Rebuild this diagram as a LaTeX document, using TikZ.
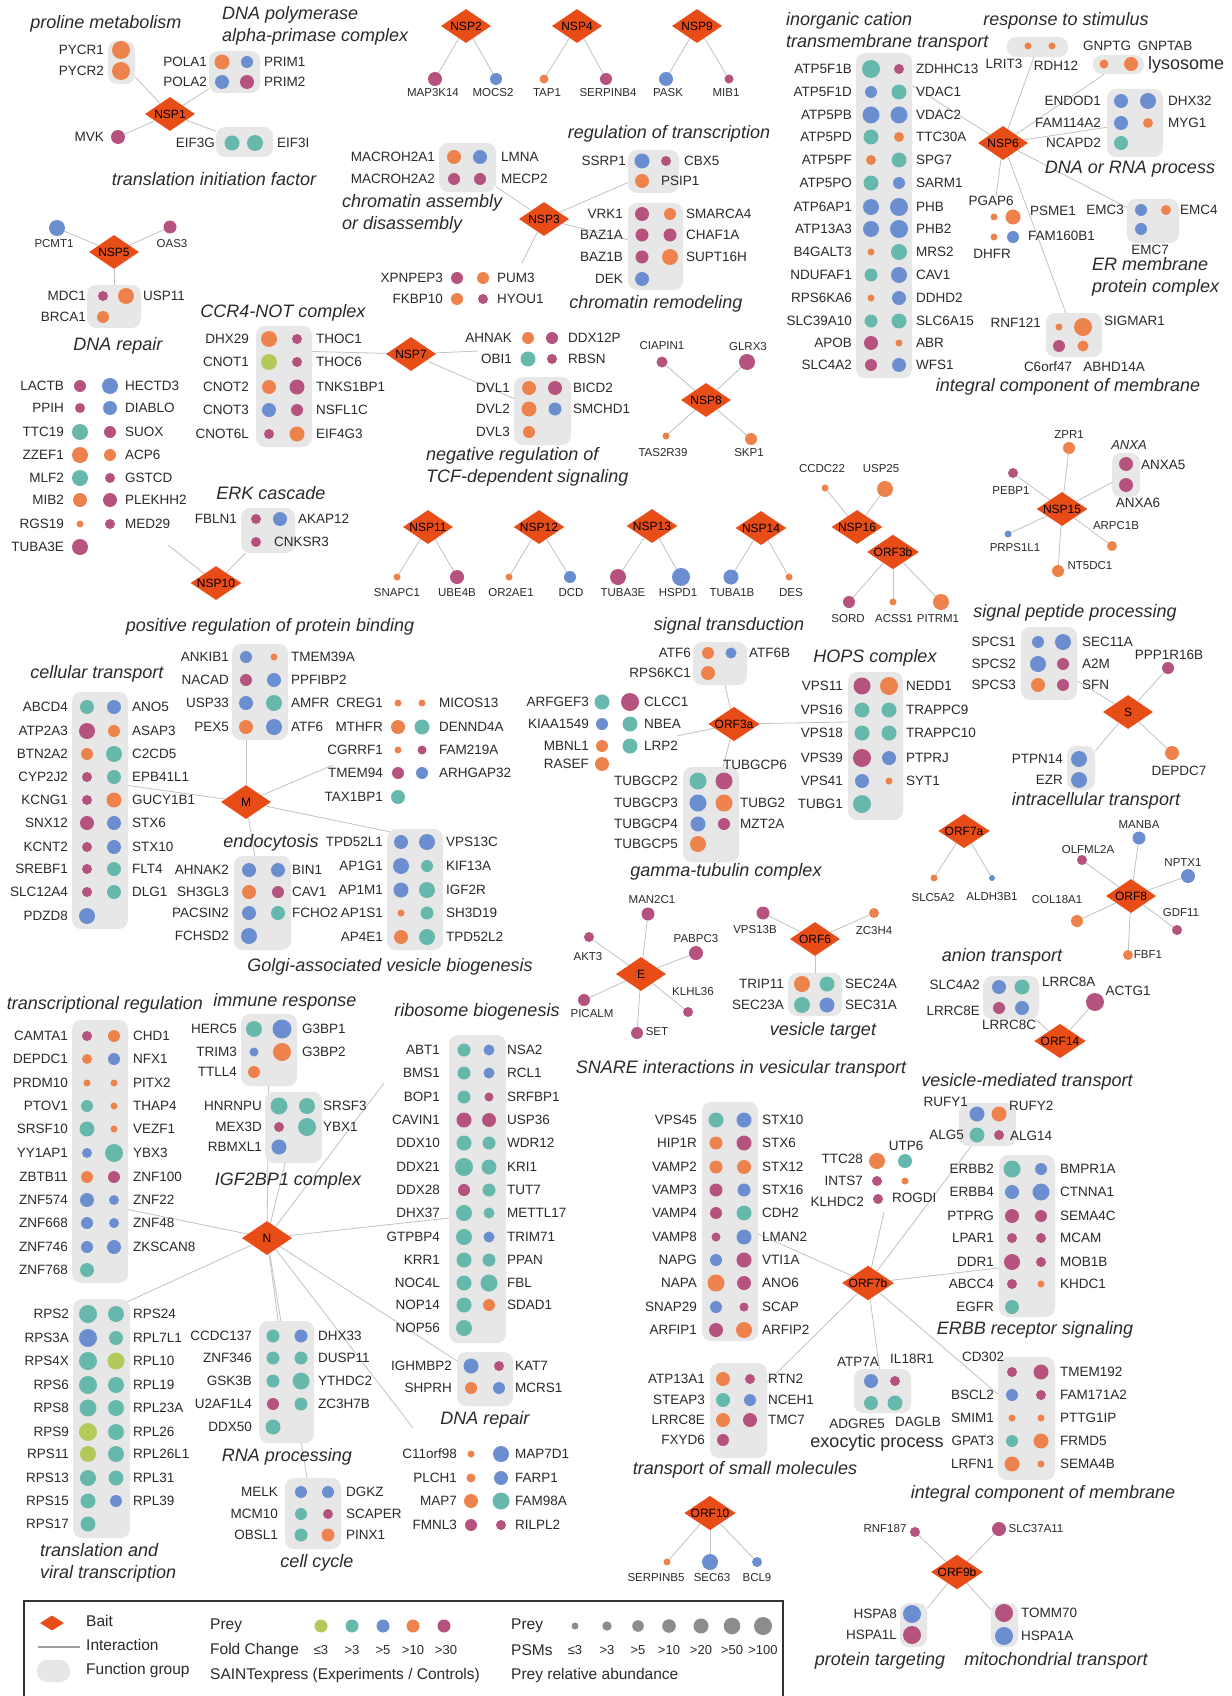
\documentclass[tikz,border=0pt]{standalone}
\usepackage{fontspec}
\setmainfont{Liberation Sans}
\usetikzlibrary{shapes.geometric,fit}
\definecolor{cG}{HTML}{B3CA5B}
\definecolor{cT}{HTML}{66B8AC}
\definecolor{cU}{HTML}{6A8ECF}
\definecolor{cO}{HTML}{EE824D}
\definecolor{cM}{HTML}{B5527D}
\definecolor{cB}{HTML}{E84C17}
\definecolor{cK}{HTML}{8C8C8C}
\definecolor{gbox}{HTML}{E7E7E7}
\definecolor{eg}{HTML}{C2C2C2}
\definecolor{tx}{HTML}{2A2A2A}
\pgfdeclarelayer{bglayer}
\pgfdeclarelayer{edgelayer}
\pgfdeclarelayer{boxlayer}
\pgfsetlayers{bglayer,edgelayer,boxlayer,main}
\tikzset{
 bait/.style={diamond,aspect=1.5,fill=cB,draw=none,minimum width=50pt,minimum height=34pt,inner sep=0pt,font=\fontsize{12}{13}\selectfont,text=black},
 prey/.style={circle,draw=none,inner sep=0pt,outer sep=0pt},
 lab/.style={font=\fontsize{13.5}{15}\selectfont,text=tx,inner sep=0pt},
 slab/.style={font=\fontsize{11.5}{13}\selectfont,text=tx,inner sep=0pt},
 ttl/.style={font=\fontsize{18}{22}\selectfont\itshape,text=tx,inner sep=0pt,align=left},
 utl/.style={font=\fontsize{18}{22}\selectfont,text=tx,inner sep=0pt},
 grp/.style={rounded corners=9pt,fill=gbox,draw=none,inner sep=0pt},
 edge/.style={draw=eg,line width=0.8pt},
 leg/.style={font=\fontsize{15.5}{18}\selectfont,text=tx,inner sep=0pt,anchor=west},
 legs/.style={font=\fontsize{13}{15}\selectfont,text=tx,inner sep=0pt},
}
\newcommand\lo{18}
\newcommand\ro{18}
\newcommand\LR[2]{\renewcommand\lo{#1}\renewcommand\ro{#2}}
\newcommand\PL[5]{\node[prey,fill=#3,minimum size=#4*2pt] (#5) at (#1,#2) {};\node[lab,anchor=east] (#5-t) at (#1-\lo,#2) {#5};}
\newcommand\PR[5]{\node[prey,fill=#3,minimum size=#4*2pt] (#5) at (#1,#2) {};\node[lab,anchor=west] (#5-t) at (#1+\ro,#2) {#5};}
\newcommand\PN[5]{\node[prey,fill=#3,minimum size=#4*2pt] (#5) at (#1,#2) {};}
\newcommand\PS[9][slab]{\node[prey,fill=#4,minimum size=#5*2pt] (#6) at (#2,#3) {};\node[#1] (#6-t) at (#7,#8) {#9};}
\newcommand\TL[4][center]{\node[lab,anchor=#1] (#4-t) at (#2,#3) {#4};}
\newcommand\TT[5][center]{\node[ttl,anchor=#1] (#2) at (#3,#4) {#5};}
\newcommand\BT[3]{\node[bait] (#1) at (#2,#3) {#1};}
\newcommand\GB[5]{\begin{pgfonlayer}{boxlayer}\node[grp,fit={(#2,#3) (#4,#5)}] (#1) {};\end{pgfonlayer}}
\begin{document}
\begin{tikzpicture}[x=1pt,y=-1pt]
\begin{pgfonlayer}{bglayer}
\fill[white] (0,0) rectangle (1231,1696);
\end{pgfonlayer}
\useasboundingbox (0,0) rectangle (1231,1696);
% ---------------- baits
\BT{NSP1}{170}{114}\BT{NSP2}{466}{26}\BT{NSP4}{577}{26}\BT{NSP9}{697}{26}
\BT{NSP5}{114}{252}\BT{NSP3}{544}{219}\BT{NSP6}{1003}{143}\BT{NSP7}{411}{354}
\BT{NSP8}{706}{400}\BT{NSP10}{216}{583}\BT{NSP11}{428}{527}\BT{NSP12}{539}{527}
\BT{NSP13}{652}{526}\BT{NSP14}{761}{528}\BT{NSP16}{857}{527}\BT{ORF3b}{893}{552}
\BT{NSP15}{1062}{509}\BT{M}{246}{802}\BT{ORF3a}{734}{724}\BT{S}{1128}{712}
\BT{ORF7a}{964}{831}\BT{ORF8}{1131}{896}\BT{ORF6}{815}{939}\BT{E}{641}{974}
\BT{ORF14}{1060}{1041}\BT{N}{267}{1238}\BT{ORF7b}{868}{1283}\BT{ORF10}{710}{1513}
\BT{ORF9b}{957}{1572}
% ---------------- NSP1
\LR{17}{17}
\GB{gPYCR}{108}{41}{135}{84}
\PL{121}{50}{cO}{9}{PYCR1}
\PL{121}{71}{cO}{9}{PYCR2}
\LR{15}{17}
\GB{gPOLA}{209}{51}{260}{93}
\PL{222}{62}{cO}{7.5}{POLA1}\PR{247}{62}{cU}{6}{PRIM1}
\PL{222}{82}{cU}{7}{POLA2}\PR{247}{82}{cM}{7}{PRIM2}
\LR{14}{17}
\PL{118}{137}{cM}{7}{MVK}
\LR{17}{22}
\GB{gEIF}{216}{127}{273}{157}
\PL{232}{143}{cT}{7.5}{EIF3G}\PR{255}{143}{cT}{8}{EIF3I}
\TT{t1}{106}{24}{proline metabolism}
\TT[west]{t2}{222}{26}{DNA polymerase\\alpha-primase complex}
\TT{t3}{214}{179}{translation initiation factor}
% ---------------- NSP2 4 9
\PS{435}{79}{cM}{7}{MAP3K14}{433}{93}{MAP3K14}
\PS{496}{79}{cU}{6}{MOCS2}{493}{93}{MOCS2}
\PS{544}{79}{cO}{4.5}{TAP1}{547}{93}{TAP1}
\PS{606}{79}{cM}{6}{SERPINB4}{608}{93}{SERPINB4}
\PS{666}{79}{cU}{7}{PASK}{668}{93}{PASK}
\PS{729}{79}{cM}{4.5}{MIB1}{726}{93}{MIB1}
% ---------------- NSP5
\PS{57}{228}{cU}{8}{PCMT1}{54}{244}{PCMT1}
\PS{170}{227}{cM}{6.5}{OAS3}{172}{244}{OAS3}
\LR{17}{17}
\GB{gDR1}{87}{285}{141}{328}
\PL{103}{296}{cM}{5}{MDC1}\PR{126}{296}{cO}{8}{USP11}
\PL{103}{317}{cO}{6}{BRCA1}
\TT{t4}{118}{346}{DNA repair}
% ---------------- NSP3
\LR{19}{21}
\GB{gMAC}{439}{143}{496}{192}
\PL{454}{157}{cO}{7}{MACROH2A1}\PR{480}{157}{cU}{7}{LMNA}
\PL{454}{179}{cM}{6}{MACROH2A2}\PR{480}{179}{cM}{6}{MECP2}
\TT[west]{t5}{342}{214}{chromatin assembly\\or disassembly}
\LR{16}{18}
\GB{gRoT}{628}{150}{679}{193}
\PL{642}{161}{cU}{7.5}{SSRP1}\PR{666}{161}{cM}{5}{CBX5}
\LR{16}{19}
\PR{642}{181}{cO}{7}{PSIP1}
\TT{t6}{669}{134}{regulation of transcription}
\LR{19}{16}
\GB{gCR}{628}{203}{683}{290}
\PL{642}{214}{cM}{7}{VRK1}\PR{670}{214}{cO}{6}{SMARCA4}
\PL{642}{235}{cM}{6.5}{BAZ1A}\PR{670}{235}{cM}{6.5}{CHAF1A}
\PL{642}{257}{cM}{6.5}{BAZ1B}\PR{670}{257}{cO}{8}{SUPT16H}
\PL{642}{279}{cU}{7}{DEK}
\TT{t7}{656}{304}{chromatin remodeling}
\LR{14}{14}
\PL{457}{278}{cM}{6}{XPNPEP3}\PR{483}{278}{cO}{6}{PUM3}
\PL{457}{299}{cO}{6}{FKBP10}\PR{483}{299}{cM}{5}{HYOU1}
\coordinate (lXP) at (522,263);
% ---------------- NSP6
\TT[west]{t8}{786}{32}{inorganic cation\\transmembrane transport}
\LR{19}{17}
\GB{gICT}{856}{53}{912}{378}
\PL{871}{69}{cT}{9}{ATP5F1B}\PR{899}{69}{cM}{5}{ZDHHC13}
\PL{871}{92}{cU}{6}{ATP5F1D}\PR{899}{92}{cT}{7.5}{VDAC1}
\PL{871}{115}{cU}{8.5}{ATP5PB}\PR{899}{115}{cU}{8.5}{VDAC2}
\PL{871}{137}{cT}{7.5}{ATP5PD}\PR{899}{137}{cO}{5}{TTC30A}
\PL{871}{160}{cO}{5}{ATP5PF}\PR{899}{160}{cT}{7.5}{SPG7}
\PL{871}{183}{cT}{7.5}{ATP5PO}\PR{899}{183}{cU}{6}{SARM1}
\PL{871}{207}{cU}{8}{ATP6AP1}\PR{899}{207}{cU}{9}{PHB}
\PL{871}{229}{cU}{8}{ATP13A3}\PR{899}{229}{cU}{9}{PHB2}
\PL{871}{252}{cO}{3.5}{B4GALT3}\PR{899}{252}{cT}{8}{MRS2}
\PL{871}{275}{cT}{6.5}{NDUFAF1}\PR{899}{275}{cU}{8}{CAV1}
\PL{871}{298}{cO}{3.5}{RPS6KA6}\PR{899}{298}{cU}{7}{DDHD2}
\PL{871}{321}{cT}{6.5}{SLC39A10}\PR{899}{321}{cT}{7.5}{SLC6A15}
\PL{871}{343}{cM}{7}{APOB}\PR{899}{343}{cO}{3.5}{ABR}
\PL{871}{365}{cM}{6}{SLC4A2}\PR{899}{365}{cU}{7}{WFS1}
\TT{t9}{1066}{21}{response to stimulus}
\GB{gRS}{1007}{37}{1068}{57}
\PN{1028}{46}{cO}{3.5}{LRIT3}\PN{1052}{46}{cO}{3.5}{RDH12}
\TL{1004}{64}{LRIT3}\TL{1056}{66}{RDH12}
\GB{gLY}{1093}{55}{1144}{74}
\PN{1104}{64}{cO}{4.5}{GNPTG}\PN{1131}{64}{cO}{7}{GNPTAB}
\TL{1107}{46}{GNPTG}\TL{1165}{46}{GNPTAB}
\node[utl,anchor=west] (t9b) at (1148,65) {lysosome};
\LR{20}{20}
\GB{gDNA}{1107}{89}{1163}{157}
\PL{1121}{101}{cU}{7}{ENDOD1}\PR{1148}{101}{cU}{8}{DHX32}
\PL{1121}{123}{cU}{7}{FAM114A2}\PR{1148}{123}{cO}{5}{MYG1}
\PL{1121}{143}{cT}{7}{NCAPD2}
\TT{t9c}{1130}{169}{DNA or RNA process}
\PN{994}{217}{cO}{3.5}{PGAP6}\PN{1013}{217}{cO}{7.5}{PSME1}
\PN{994}{237}{cO}{3.5}{DHFR}\PN{1013}{237}{cU}{6}{FAM160B1}
\TL{991}{201}{PGAP6}\TL[west]{1030}{211}{PSME1}\TL[west]{1028}{236}{FAM160B1}\TL{992}{254}{DHFR}
\coordinate (lPG) at (996,197);
\GB{gEMC}{1127}{199}{1179}{243}
\PN{1141}{210}{cU}{6}{EMC3}\PN{1166}{210}{cO}{5}{EMC4}\PN{1141}{229}{cU}{6}{EMC7}
\TL[east]{1124}{210}{EMC3}\TL[west]{1180}{210}{EMC4}\TL{1150}{250}{EMC7}
\TT[west]{t9d}{1092}{277}{ER membrane\\protein complex}
\GB{gICMa}{1046}{313}{1102}{357}
\PN{1059}{327}{cO}{3.5}{RNF121}\PN{1083}{327}{cO}{9}{SIGMAR1}
\PN{1059}{346}{cM}{6}{C6orf47}\PN{1083}{346}{cO}{5.5}{ABHD14A}
\TL[east]{1041}{323}{RNF121}\TL[west]{1104}{321}{SIGMAR1}\TL{1048}{367}{C6orf47}\TL{1114}{367}{ABHD14A}
\TT{t9e}{1068}{387}{integral component of membrane}
% ---------------- NSP7
\TT{t10}{283}{313}{CCR4-NOT complex}
\LR{20}{19}
\GB{gCCR}{256}{326}{312}{447}
\PL{269}{339}{cO}{8}{DHX29}\PR{297}{339}{cM}{5}{THOC1}
\PL{269}{362}{cG}{8}{CNOT1}\PR{297}{362}{cM}{5}{THOC6}
\PL{269}{387}{cO}{7}{CNOT2}\PR{297}{387}{cM}{7.5}{TNKS1BP1}
\PL{269}{410}{cU}{7}{CNOT3}\PR{297}{410}{cM}{6}{NSFL1C}
\PL{269}{434}{cM}{5}{CNOT6L}\PR{297}{434}{cO}{7.5}{EIF4G3}
\LR{16}{16}
\PL{528}{338}{cO}{6}{AHNAK}\PR{552}{338}{cM}{6}{DDX12P}
\PL{528}{359}{cT}{7.5}{OBI1}\PR{552}{359}{cM}{5}{RBSN}
\coordinate (lAH) at (478,351);
\LR{19}{18}
\GB{gDVL}{514}{377}{571}{445}
\PL{529}{388}{cO}{7}{DVL1}\PR{555}{388}{cM}{7}{BICD2}
\PL{529}{409}{cO}{7.5}{DVL2}\PR{555}{409}{cU}{6.5}{SMCHD1}
\PL{529}{432}{cO}{6}{DVL3}
\TT[west]{t11}{426}{467}{negative regulation of\\TCF-dependent signaling}
% ---------------- NSP8
\PS{662}{362}{cM}{5.5}{CIAPIN1}{662}{346}{CIAPIN1}
\PS{747}{362}{cM}{8}{GLRX3}{748}{347}{GLRX3}
\PS{666}{436}{cO}{3.5}{TAS2R39}{663}{453}{TAS2R39}
\PS{751}{439}{cO}{6}{SKP1}{749}{453}{SKP1}
% ---------------- NSP10
\LR{16}{15}
\PL{80}{386}{cM}{6}{LACTB}\PR{110}{386}{cU}{8}{HECTD3}
\PL{80}{408}{cM}{5}{PPIH}\PR{110}{408}{cU}{7}{DIABLO}
\PL{80}{432}{cT}{8}{TTC19}\PR{110}{432}{cM}{6}{SUOX}
\PL{80}{455}{cO}{8}{ZZEF1}\PR{110}{455}{cO}{6}{ACP6}
\PL{80}{478}{cT}{8}{MLF2}\PR{110}{478}{cM}{5}{GSTCD}
\PL{80}{500}{cO}{7}{MIB2}\PR{110}{500}{cM}{7}{PLEKHH2}
\PL{80}{524}{cO}{3.5}{RGS19}\PR{110}{524}{cM}{5}{MED29}
\PL{80}{547}{cM}{8}{TUBA3E}
\coordinate (lLA) at (168,545);
\TT{t12}{271}{493}{ERK cascade}
\LR{19}{18}
\GB{gERK}{241}{508}{295}{553}
\PL{256}{519}{cM}{5}{FBLN1}\PR{280}{519}{cU}{7}{AKAP12}
\PR{256}{542}{cM}{5}{CNKSR3}
% ---------------- NSP11-14, 16, ORF3b
\PS{397}{577}{cO}{3.5}{SNAPC1}{397}{593}{SNAPC1}
\PS{457}{577}{cM}{7}{UBE4B}{457}{593}{UBE4B}
\PS{509}{577}{cO}{3.5}{OR2AE1}{511}{593}{OR2AE1}
\PS{570}{577}{cU}{6}{DCD}{571}{593}{DCD}
\PS{618}{577}{cM}{8}{s13TUBA3E}{623}{593}{TUBA3E}
\PS{681}{577}{cU}{9}{HSPD1}{678}{593}{HSPD1}
\PS{731}{577}{cU}{7.5}{TUBA1B}{732}{593}{TUBA1B}
\PS{789}{577}{cO}{3.5}{DES}{791}{593}{DES}
\PS{825}{488}{cO}{3.5}{CCDC22}{822}{469}{CCDC22}
\PS{885}{489}{cO}{8}{USP25}{881}{469}{USP25}
\PS{849}{602}{cM}{6}{SORD}{848}{619}{SORD}
\PS{893}{602}{cO}{3.5}{ACSS1}{894}{619}{ACSS1}
\PS{941}{602}{cO}{8}{PITRM1}{938}{619}{PITRM1}
% ---------------- NSP15
\PS{1069}{448}{cO}{6}{ZPR1}{1069}{435}{ZPR1}
\PS{1013}{473}{cM}{5}{PEBP1}{1011}{491}{PEBP1}
\PS{1008}{534}{cU}{3.5}{PRPS1L1}{1015}{548}{PRPS1L1}
\PS{1058}{571}{cO}{6}{NT5DC1}{1090}{566}{NT5DC1}
\PS{1112}{546}{cO}{5}{ARPC1B}{1116}{526}{ARPC1B}
\GB{gANX}{1112}{453}{1140}{497}
\PN{1126}{464}{cM}{7}{ANXA5}\PN{1126}{485}{cM}{7}{ANXA6}
\TL[west]{1141}{465}{ANXA5}\TL{1138}{503}{ANXA6}
\node[font=\fontsize{13}{15}\selectfont\itshape,text=tx,inner sep=0pt] (tANXA) at (1129,445) {ANXA};
% ---------------- M
\TT{t13}{270}{627}{positive regulation of protein binding}
\LR{17}{17}
\GB{gPRB}{232}{644}{288}{740}
\PL{246}{657}{cU}{6}{ANKIB1}\PR{274}{657}{cO}{3.5}{TMEM39A}
\PL{246}{680}{cM}{6}{NACAD}\PR{274}{680}{cU}{7}{PPFIBP2}
\PL{246}{703}{cU}{7}{USP33}\PR{274}{703}{cT}{8}{AMFR}
\PL{246}{727}{cO}{7}{PEX5}\PR{274}{727}{cU}{8}{ATF6}
\TT{t14}{97}{674}{cellular transport}
\LR{19}{18}
\GB{gCT}{72}{692}{128}{929}
\PL{87}{707}{cT}{7}{ABCD4}\PR{114}{707}{cU}{7}{ANO5}
\PL{87}{731}{cM}{8}{ATP2A3}\PR{114}{731}{cO}{6}{ASAP3}
\PL{87}{754}{cO}{6}{BTN2A2}\PR{114}{754}{cT}{8}{C2CD5}
\PL{87}{777}{cM}{5}{CYP2J2}\PR{114}{777}{cT}{7}{EPB41L1}
\PL{87}{800}{cM}{5}{KCNG1}\PR{114}{800}{cO}{7.5}{GUCY1B1}
\PL{87}{823}{cM}{7}{SNX12}\PR{114}{823}{cU}{7}{STX6}
\PL{87}{847}{cM}{5}{KCNT2}\PR{114}{847}{cU}{7}{STX10}
\PL{87}{869}{cM}{5}{SREBF1}\PR{114}{869}{cT}{7}{FLT4}
\PL{87}{892}{cM}{5}{SLC12A4}\PR{114}{892}{cT}{7}{DLG1}
\PL{87}{916}{cU}{8}{PDZD8}
\LR{15}{17}
\PL{398}{703}{cO}{3.5}{CREG1}\PR{422}{703}{cO}{3.5}{MICOS13}
\PL{398}{727}{cO}{7}{MTHFR}\PR{422}{727}{cT}{7.5}{DENND4A}
\PL{398}{750}{cO}{3.5}{CGRRF1}\PR{422}{750}{cM}{4.5}{FAM219A}
\PL{398}{773}{cM}{6}{TMEM94}\PR{422}{773}{cU}{6}{ARHGAP32}
\PL{398}{797}{cT}{7}{TAX1BP1}
\coordinate (lCR) at (333,765);
\TT{t15}{271}{843}{endocytosis}
\LR{20}{14}
\GB{gEND}{234}{856}{291}{950}
\PL{249}{870}{cU}{7}{AHNAK2}\PR{278}{870}{cU}{7}{BIN1}
\PL{249}{892}{cO}{7}{SH3GL3}\PR{278}{892}{cM}{6}{CAV1}
\PL{249}{913}{cU}{7}{PACSIN2}\PR{278}{913}{cT}{7}{FCHO2}
\PL{249}{936}{cU}{8}{FCHSD2}
\LR{18}{19}
\GB{gGOL}{387}{829}{443}{950}
\PL{401}{842}{cU}{7}{TPD52L1}\PR{427}{842}{cU}{8}{VPS13C}
\PL{401}{866}{cU}{8}{AP1G1}\PR{427}{866}{cT}{6}{KIF13A}
\PL{401}{890}{cU}{7.5}{AP1M1}\PR{427}{890}{cT}{8}{IGF2R}
\PL{401}{913}{cO}{3.5}{AP1S1}\PR{427}{913}{cT}{6.5}{SH3D19}
\PL{401}{937}{cO}{7}{AP4E1}\PR{427}{937}{cT}{8}{TPD52L2}
\TT{t16}{390}{967}{Golgi-associated vesicle biogenesis}
% ---------------- ORF3a
\TT{t17}{729}{626}{signal transduction}
\LR{17}{18}
\GB{gST}{693}{642}{747}{685}
\PL{708}{653}{cO}{6}{ATF6}\PR{731}{653}{cU}{5.5}{ATF6B}
\PL{708}{673}{cO}{7}{RPS6KC1}
\LR{13}{14}
\PL{602}{702}{cT}{7.5}{ARFGEF3}\PR{630}{702}{cM}{9}{CLCC1}
\PL{602}{724}{cU}{6}{KIAA1549}\PR{630}{724}{cT}{7.5}{NBEA}
\PL{602}{746}{cO}{6}{MBNL1}\PR{630}{746}{cT}{7.5}{LRP2}
\PL{602}{764}{cO}{7}{RASEF}
\coordinate (lAR) at (677,736);
\LR{20}{16}
\GB{gGT}{683}{767}{739}{862}
\PL{698}{781}{cT}{8.5}{TUBGCP2}\PN{724}{781}{cM}{8.5}{TUBGCP6}
\TL{755}{765}{TUBGCP6}
\PL{698}{803}{cU}{8.5}{TUBGCP3}\PR{724}{803}{cO}{8.5}{TUBG2}
\PL{698}{824}{cU}{7.5}{TUBGCP4}\PR{724}{824}{cM}{6}{MZT2A}
\PL{698}{844}{cO}{8}{TUBGCP5}
\TT{t18}{726}{872}{gamma-tubulin complex}
\TT{t19}{875}{658}{HOPS complex}
\LR{19}{17}
\GB{gHOPS}{848}{672}{903}{820}
\PL{862}{686}{cM}{8.5}{VPS11}\PR{889}{686}{cO}{9}{NEDD1}
\PL{862}{710}{cT}{7.5}{VPS16}\PR{889}{710}{cT}{7.5}{TRAPPC9}
\PL{862}{733}{cT}{7.5}{VPS18}\PR{889}{733}{cT}{7.5}{TRAPPC10}
\PL{862}{758}{cM}{9}{VPS39}\PR{889}{758}{cU}{7}{PTPRJ}
\PL{862}{781}{cU}{7}{VPS41}\PR{889}{781}{cO}{3.5}{SYT1}
\PL{862}{804}{cT}{9}{TUBG1}
% ---------------- S
\TT{t20}{1075}{613}{signal peptide processing}
\LR{22}{19}
\GB{gSPP}{1021}{627}{1077}{700}
\PL{1038}{642}{cU}{6}{SPCS1}\PR{1063}{642}{cU}{8}{SEC11A}
\PL{1038}{664}{cU}{8}{SPCS2}\PR{1063}{664}{cM}{6}{A2M}
\PL{1038}{685}{cO}{7}{SPCS3}\PR{1063}{685}{cM}{6}{SFN}
\PS[lab]{1168}{668}{cM}{6}{PPP1R16B}{1169}{655}{PPP1R16B}
\PS[lab]{1172}{753}{cO}{7}{DEPDC7}{1179}{771}{DEPDC7}
\LR{16}{16}
\GB{gIT}{1067}{746}{1095}{790}
\PL{1079}{759}{cU}{8}{PTPN14}
\PL{1079}{780}{cU}{8}{EZR}
\TT{t21}{1096}{801}{intracellular transport}
% ---------------- ORF7a, ORF8
\PS{934}{878}{cO}{3.5}{SLC5A2}{933}{898}{SLC5A2}
\PS{992}{878}{cU}{3}{ALDH3B1}{992}{897}{ALDH3B1}
\PS{1139}{838}{cU}{6.5}{MANBA}{1139}{825}{MANBA}
\PS{1082}{860}{cM}{5}{OLFML2A}{1088}{850}{OLFML2A}
\PS{1188}{876}{cU}{7}{NPTX1}{1183}{863}{NPTX1}
\PS{1077}{921}{cO}{6}{COL18A1}{1057}{900}{COL18A1}
\PS{1177}{930}{cM}{5}{GDF11}{1181}{913}{GDF11}
\PS{1128}{955}{cO}{5}{FBF1}{1148}{955}{FBF1}
% ---------------- ORF6
\PS{763}{913}{cM}{6.5}{VPS13B}{755}{930}{VPS13B}
\PS{874}{913}{cO}{5}{ZC3H4}{874}{931}{ZC3H4}
\LR{18}{18}
\GB{gVT}{788}{973}{842}{1016}
\PL{802}{984}{cO}{8}{TRIP11}\PR{827}{984}{cT}{7.5}{SEC24A}
\PL{802}{1005}{cT}{8}{SEC23A}\PR{827}{1005}{cU}{7.5}{SEC31A}
\TT{t23}{823}{1031}{vesicle target}
% ---------------- ORF14
\TT{t22}{1002}{957}{anion transport}
\GB{gAN}{983}{976}{1039}{1019}
\PN{999}{987}{cU}{7}{SLC4A2}\PN{1022}{987}{cT}{7.5}{LRRC8A}
\PN{999}{1008}{cM}{6}{LRRC8E}\PN{1022}{1008}{cU}{7}{LRRC8C}
\TL[east]{980}{985}{SLC4A2}\TL[west]{1042}{982}{LRRC8A}\TL[east]{980}{1011}{LRRC8E}\TL{1009}{1025}{LRRC8C}
\PS[lab]{1095}{1002}{cM}{9}{ACTG1}{1128}{991}{ACTG1}
% ---------------- E
\PS{648}{914}{cM}{6.5}{MAN2C1}{652}{900}{MAN2C1}
\PS{589}{937}{cM}{5}{AKT3}{588}{957}{AKT3}
\PS{696}{953}{cM}{7}{PABPC3}{696}{939}{PABPC3}
\PS{584}{1000}{cM}{6}{PICALM}{592}{1014}{PICALM}
\PS{688}{1012}{cM}{5}{KLHL36}{693}{992}{KLHL36}
\PS{637}{1033}{cM}{6}{SET}{657}{1032}{SET}
% ---------------- ORF7b
\TT{t24}{741}{1069}{SNARE interactions in vesicular transport}
\LR{19}{18}
\GB{gSN}{702}{1102}{758}{1341}
\PL{716}{1120}{cT}{7.5}{VPS45}\PR{744}{1120}{cU}{7.5}{STX10}
\PL{716}{1143}{cO}{6.5}{HIP1R}\PR{744}{1143}{cM}{7.5}{STX6}
\PL{716}{1167}{cO}{6.5}{VAMP2}\PR{744}{1167}{cO}{7}{STX12}
\PL{716}{1190}{cM}{6.5}{VAMP3}\PR{744}{1190}{cU}{6.5}{STX16}
\PL{716}{1213}{cM}{6}{VAMP4}\PR{744}{1213}{cT}{7.5}{CDH2}
\PL{716}{1237}{cM}{4.5}{VAMP8}\PR{744}{1237}{cU}{7.5}{LMAN2}
\PL{716}{1260}{cU}{6}{NAPG}\PR{744}{1260}{cM}{7.5}{VTI1A}
\PL{716}{1283}{cO}{8.5}{NAPA}\PR{744}{1283}{cM}{7}{ANO6}
\PL{716}{1307}{cU}{6}{SNAP29}\PR{744}{1307}{cM}{4.5}{SCAP}
\PL{716}{1330}{cM}{7}{ARFIP1}\PR{744}{1330}{cO}{8}{ARFIP2}
\LR{18}{18}
\GB{gTSM}{710}{1363}{767}{1458}
\PL{723}{1379}{cO}{7}{ATP13A1}\PR{750}{1379}{cM}{5}{RTN2}
\PL{723}{1400}{cT}{7}{STEAP3}\PR{750}{1400}{cU}{6}{NCEH1}
\PL{723}{1420}{cO}{7}{LRRC8E}\PR{750}{1420}{cM}{7}{TMC7}
\PL{723}{1440}{cM}{6}{FXYD6}
\TT{t29}{745}{1470}{transport of small molecules}
\PN{877}{1161}{cO}{8}{TTC28}\TL[east]{863}{1159}{TTC28}
\PN{905}{1161}{cT}{7}{UTP6}\TL{906}{1146}{UTP6}
\PN{877}{1181}{cM}{5}{INTS7}\TL[east]{863}{1181}{INTS7}
\PN{905}{1181}{cO}{3.5}{ROGDI}\TL[west]{892}{1198}{ROGDI}
\PN{878}{1199}{cM}{5}{KLHDC2}\TL[east]{864}{1202}{KLHDC2}
\coordinate (lTT) at (884,1212);
\TT{t25}{1027}{1082}{vesicle-mediated transport}
\GB{gVMT}{959}{1103}{1016}{1146}
\PN{977}{1114}{cU}{7.5}{RUFY1}\PN{999}{1114}{cO}{7.5}{RUFY2}
\PN{977}{1135}{cT}{7.5}{ALG5}\PN{999}{1135}{cM}{5}{ALG14}
\TL[east]{968}{1102}{RUFY1}\TL[west]{1009}{1106}{RUFY2}\TL[east]{964}{1135}{ALG5}\TL[west]{1010}{1136}{ALG14}
\LR{18}{19}
\GB{gERBB}{999}{1155}{1055}{1317}
\PL{1012}{1169}{cT}{8.5}{ERBB2}\PR{1041}{1169}{cU}{6}{BMPR1A}
\PL{1012}{1192}{cU}{7}{ERBB4}\PR{1041}{1192}{cU}{8.5}{CTNNA1}
\PL{1012}{1216}{cM}{7}{PTPRG}\PR{1041}{1216}{cM}{6}{SEMA4C}
\PL{1012}{1238}{cM}{5}{LPAR1}\PR{1041}{1238}{cM}{5}{MCAM}
\PL{1012}{1262}{cM}{8}{DDR1}\PR{1041}{1262}{cM}{5}{MOB1B}
\PL{1012}{1284}{cM}{5}{ABCC4}\PR{1041}{1284}{cO}{3.5}{KHDC1}
\PL{1012}{1307}{cT}{7}{EGFR}
\TT{t26}{1035}{1330}{ERBB receptor signaling}
\GB{gEX}{854}{1369}{911}{1413}
\PN{871}{1381}{cU}{7}{ATP7A}\PN{895}{1381}{cM}{5}{IL18R1}
\PN{871}{1403}{cT}{7}{ADGRE5}\PN{895}{1403}{cT}{7.5}{DAGLB}
\TL{858}{1362}{ATP7A}\TL{912}{1359}{IL18R1}\TL{857}{1424}{ADGRE5}\TL{918}{1422}{DAGLB}
\node[utl] (t27) at (877,1443) {exocytic process};
\GB{gICMb}{998}{1357}{1055}{1480}
\PN{1012}{1372}{cM}{5}{CD302}\TL{983}{1357}{CD302}\PR{1041}{1372}{cM}{7.5}{TMEM192}
\PL{1012}{1395}{cU}{6}{BSCL2}\PR{1041}{1395}{cM}{5}{FAM171A2}
\PL{1012}{1418}{cO}{3.5}{SMIM1}\PR{1041}{1418}{cO}{3.5}{PTTG1IP}
\PL{1012}{1441}{cT}{6}{GPAT3}\PR{1041}{1441}{cO}{7.5}{FRMD5}
\PL{1012}{1464}{cO}{7.5}{LRFN1}\PR{1041}{1464}{cO}{3.5}{SEMA4B}
\TT{t28}{1043}{1494}{integral component of membrane}
% ---------------- ORF9b, ORF10
\PS{915}{1532}{cM}{5}{RNF187}{885}{1529}{RNF187}
\PS{999}{1529}{cM}{7}{SLC37A11}{1036}{1529}{SLC37A11}
\LR{15}{17}
\GB{gPT}{900}{1603}{927}{1647}
\PL{912}{1614}{cU}{9}{HSPA8}
\PL{912}{1635}{cM}{9}{HSPA1L}
\GB{gMT}{991}{1603}{1018}{1647}
\PR{1004}{1613}{cM}{9}{TOMM70}
\PR{1004}{1636}{cU}{9}{HSPA1A}
\TT{t30}{880}{1661}{protein targeting}
\TT{t31}{1056}{1661}{mitochondrial transport}
\PS{667}{1562}{cO}{3.5}{SERPINB5}{656}{1578}{SERPINB5}
\PS{710}{1562}{cU}{8}{SEC63}{712}{1578}{SEC63}
\PS{757}{1562}{cU}{5}{BCL9}{757}{1578}{BCL9}
% ---------------- N
\TT{t32}{105}{1005}{transcriptional regulation}
\TT{t33}{285}{1002}{immune response}
\LR{19}{19}
\GB{gTR}{72}{1020}{128}{1283}
\PL{87}{1036}{cM}{5}{CAMTA1}\PR{114}{1036}{cO}{6}{CHD1}
\PL{87}{1059}{cO}{5}{DEPDC1}\PR{114}{1059}{cU}{6}{NFX1}
\PL{87}{1083}{cO}{3.5}{PRDM10}\PR{114}{1083}{cO}{3.5}{PITX2}
\PL{87}{1106}{cT}{6}{PTOV1}\PR{114}{1106}{cO}{3.5}{THAP4}
\PL{87}{1129}{cT}{7.5}{SRSF10}\PR{114}{1129}{cO}{3.5}{VEZF1}
\PL{87}{1153}{cU}{5}{YY1AP1}\PR{114}{1153}{cT}{9}{YBX3}
\PL{87}{1177}{cO}{6}{ZBTB11}\PR{114}{1177}{cM}{6}{ZNF100}
\PL{87}{1200}{cU}{7}{ZNF574}\PR{114}{1200}{cU}{5}{ZNF22}
\PL{87}{1223}{cU}{6}{ZNF668}\PR{114}{1223}{cU}{5}{ZNF48}
\PL{87}{1247}{cU}{6}{ZNF746}\PR{114}{1247}{cU}{7}{ZKSCAN8}
\PL{87}{1270}{cT}{7}{ZNF768}
\LR{17}{20}
\GB{gIM}{241}{1014}{297}{1086}
\PL{254}{1029}{cT}{8}{HERC5}\PR{282}{1029}{cU}{9.5}{G3BP1}
\PL{254}{1052}{cU}{4.5}{TRIM3}\PR{282}{1052}{cO}{9}{G3BP2}
\PL{254}{1072}{cO}{6}{TTLL4}
\LR{17}{16}
\GB{gIG}{265}{1092}{322}{1163}
\PL{279}{1106}{cT}{8.5}{HNRNPU}\PR{307}{1106}{cT}{8}{SRSF3}
\PL{279}{1127}{cM}{5}{MEX3D}\PR{307}{1127}{cT}{9}{YBX1}
\PL{279}{1147}{cU}{7.5}{RBMXL1}
\TT{t34}{288}{1181}{IGF2BP1 complex}
\TT{t35}{477}{1012}{ribosome biogenesis}
\LR{24}{18}
\GB{gRB}{449}{1035}{506}{1343}
\PL{464}{1050}{cT}{6.5}{ABT1}\PR{489}{1050}{cU}{5.5}{NSA2}
\PL{464}{1073}{cT}{6.5}{BMS1}\PR{489}{1073}{cU}{5.5}{RCL1}
\PL{464}{1097}{cT}{6.5}{BOP1}\PR{489}{1097}{cM}{4.5}{SRFBP1}
\PL{464}{1120}{cM}{7.5}{CAVIN1}\PR{489}{1120}{cM}{7}{USP36}
\PL{464}{1143}{cT}{7.5}{DDX10}\PR{489}{1143}{cT}{6.5}{WDR12}
\PL{464}{1167}{cT}{9}{DDX21}\PR{489}{1167}{cT}{7.5}{KRI1}
\PL{464}{1190}{cM}{6}{DDX28}\PR{489}{1190}{cT}{6.5}{TUT7}
\PL{464}{1213}{cT}{8}{DHX37}\PR{489}{1213}{cT}{5.5}{METTL17}
\PL{464}{1237}{cT}{8}{GTPBP4}\PR{489}{1237}{cU}{5.5}{TRIM71}
\PL{464}{1260}{cT}{7.5}{KRR1}\PR{489}{1260}{cT}{6.5}{PPAN}
\PL{464}{1283}{cT}{7.5}{NOC4L}\PR{489}{1283}{cT}{8.5}{FBL}
\PL{464}{1305}{cT}{7.5}{NOP14}\PR{489}{1305}{cO}{6}{SDAD1}
\PL{464}{1328}{cT}{8}{NOP56}
\coordinate (lRB) at (384,1083);
\LR{19}{17}
\GB{gTVT}{73}{1299}{130}{1538}
\PL{88}{1314}{cT}{9}{RPS2}\PR{116}{1314}{cT}{8}{RPS24}
\PL{88}{1338}{cU}{9}{RPS3A}\PR{116}{1338}{cT}{7}{RPL7L1}
\PL{88}{1361}{cT}{9}{RPS4X}\PR{116}{1361}{cG}{8.5}{RPL10}
\PL{88}{1385}{cT}{9}{RPS6}\PR{116}{1385}{cT}{8}{RPL19}
\PL{88}{1408}{cT}{8.5}{RPS8}\PR{116}{1408}{cT}{8}{RPL23A}
\PL{88}{1432}{cG}{9}{RPS9}\PR{116}{1432}{cT}{8}{RPL26}
\PL{88}{1454}{cG}{8}{RPS11}\PR{116}{1454}{cT}{8}{RPL26L1}
\PL{88}{1478}{cT}{8}{RPS13}\PR{116}{1478}{cT}{7.5}{RPL31}
\PL{88}{1501}{cT}{7.5}{RPS15}\PR{116}{1501}{cU}{6}{RPL39}
\PL{88}{1524}{cT}{7.5}{RPS17}
\TT[west]{t36}{40}{1563}{translation and\\viral transcription}
\LR{21}{17}
\GB{gRNA}{259}{1321}{314}{1443}
\PL{273}{1336}{cT}{6.5}{CCDC137}\PR{301}{1336}{cU}{6.5}{DHX33}
\PL{273}{1358}{cT}{6.5}{ZNF346}\PR{301}{1358}{cT}{6.5}{DUSP11}
\PL{273}{1381}{cT}{6.5}{GSK3B}\PR{301}{1381}{cT}{8.5}{YTHDC2}
\PL{273}{1404}{cM}{6}{U2AF1L4}\PR{301}{1404}{cT}{6.5}{ZC3H7B}
\PL{273}{1427}{cT}{7.5}{DDX50}
\TT{t37}{287}{1457}{RNA processing}
\LR{23}{18}
\GB{gCC}{285}{1478}{341}{1549}
\PL{301}{1492}{cU}{6}{MELK}\PR{328}{1492}{cU}{6}{DGKZ}
\PL{301}{1514}{cT}{6}{MCM10}\PR{328}{1514}{cM}{5}{SCAPER}
\PL{301}{1535}{cT}{6.5}{OBSL1}\PR{328}{1535}{cO}{6.5}{PINX1}
\TT{t38}{317}{1563}{cell cycle}
\LR{19}{16}
\GB{gDR2}{457}{1352}{513}{1406}
\PL{471}{1366}{cU}{7.5}{IGHMBP2}\PR{499}{1366}{cM}{5}{KAT7}
\PL{471}{1388}{cO}{6}{SHPRH}\PR{499}{1388}{cU}{6}{MCRS1}
\TT{t39}{485}{1420}{DNA repair}
\LR{14}{14}
\PL{471}{1454}{cO}{3.5}{C11orf98}\PR{501}{1454}{cU}{8}{MAP7D1}
\PL{471}{1478}{cO}{4.5}{PLCH1}\PR{501}{1478}{cU}{7}{FARP1}
\PL{471}{1501}{cO}{7}{MAP7}\PR{501}{1501}{cT}{8.5}{FAM98A}
\PL{471}{1525}{cM}{6}{FMNL3}\PR{501}{1525}{cM}{5}{RILPL2}
\coordinate (lC11) at (413,1428);
% ---------------- edges
\begin{pgfonlayer}{edgelayer}
\foreach \a/\b in {NSP1/gPYCR,NSP1/gPOLA,NSP1/MVK,NSP1/gEIF,
 NSP2/MAP3K14,NSP2/MOCS2,NSP4/TAP1,NSP4/SERPINB4,NSP9/PASK,NSP9/MIB1,
 NSP5/PCMT1,NSP5/OAS3,NSP5/gDR1,
 NSP3/gMAC,NSP3/gRoT,NSP3/gCR,NSP3/lXP,
 NSP6/gRS,NSP6/gLY,NSP6/gDNA,NSP6/lPG,NSP6/gEMC,NSP6/gICMa,
 NSP7/lAH,NSP7/gDVL,
 NSP8/CIAPIN1,NSP8/GLRX3,NSP8/TAS2R39,NSP8/SKP1,
 NSP10/gERK,NSP10/lLA,
 NSP11/SNAPC1,NSP11/UBE4B,NSP12/OR2AE1,NSP12/DCD,NSP13/s13TUBA3E,NSP13/HSPD1,NSP14/TUBA1B,NSP14/DES,
 NSP16/CCDC22,NSP16/USP25,ORF3b/SORD,ORF3b/ACSS1,ORF3b/PITRM1,
 NSP15/ZPR1,NSP15/PEBP1,NSP15/PRPS1L1,NSP15/NT5DC1,NSP15/ARPC1B,NSP15/gANX,
 M/lCR,M/gEND,
 ORF3a/gST,ORF3a/lAR,ORF3a/gGT,
 S/gSPP,S/PPP1R16B,S/gIT,S/DEPDC7,
 ORF7a/SLC5A2,ORF7a/ALDH3B1,
 ORF8/MANBA,ORF8/OLFML2A,ORF8/NPTX1,ORF8/COL18A1,ORF8/GDF11,ORF8/FBF1,
 ORF6/VPS13B,ORF6/ZC3H4,ORF6/gVT,
 ORF14/gAN,ORF14/ACTG1,
 E/MAN2C1,E/AKT3,E/PABPC3,E/PICALM,E/KLHL36,E/SET,
 ORF7b/gSN,ORF7b/gTSM,ORF7b/lTT,ORF7b/gVMT,ORF7b/gEX,ORF7b/gICMb,
 ORF9b/RNF187,ORF9b/SLC37A11,ORF9b/gPT,ORF9b/gMT,
 ORF10/SERPINB5,ORF10/SEC63,ORF10/BCL9,
 N/gIM,N/gIG,N/lRB,N/gRNA,N/gCC,N/gDR2,N/lC11}
 \draw[edge] (\a) -- (\b);
\draw[edge] (NSP6) -- ([yshift=130pt]gICT.east);
\draw[edge] (NSP7) -- ([yshift=35pt]gCCR.east);
\draw[edge] (M) -- (M |- gPRB.south);
\draw[edge] (M) -- ([yshift=25pt]gCT.east);
\draw[edge] (M) -- ([shift={(3pt,-3pt)}]gGOL.north west);
\draw[edge] (ORF3a) -- ([yshift=24pt]gHOPS.west);
\draw[edge] (ORF7b) -- ([yshift=-32pt]gERBB.west);
\draw[edge] (N) -- ([yshift=-29pt]gRB.west);
\draw[edge] (N) -- ([yshift=-58pt]gTR.east);
\draw[edge] (N) -- ([shift={(-3pt,-3pt)}]gTVT.north east);
\end{pgfonlayer}
% ---------------- legend
\coordinate (lgA) at (24,1697);
\coordinate (lgB1) at (24,1601);
\coordinate (lgC) at (783,1601);
\coordinate (lgD) at (783,1697);
\draw[draw=black!80,line width=1.4pt] (lgA) -- (lgB1) -- (lgC) -- (lgD);
\node[bait,minimum width=24pt,minimum height=15pt] (lgBait) at (52,1623) {};
\coordinate (lgI1) at (38,1647);
\coordinate (lgI2) at (80,1647);
\draw[draw=gray!75,line width=1.2pt] (lgI1) -- (lgI2);
\node[grp,rounded corners=10pt,minimum width=33pt,minimum height=22pt] (lgF) at (53.5,1671) {};
\node[leg] (lg1) at (86,1621) {Bait};
\node[leg] (lg2) at (86,1645) {Interaction};
\node[leg] (lg3) at (86,1670) {Function group};
\node[leg] (lg4) at (210,1626) {Prey};
\node[leg] (lg5) at (210,1650) {Fold Change};
\node[leg] (lg6) at (210,1675) {SAINTexpress (Experiments / Controls)};
\node[leg] (lg7) at (511,1626) {Prey};
\node[leg] (lg8) at (511,1650) {PSMs};
\node[leg] (lg9) at (511,1675) {Prey relative abundance};
\PN{321}{1626}{cG}{6.5}{lgc1}\PN{352}{1626}{cT}{6.5}{lgc2}\PN{383}{1626}{cU}{6.5}{lgc3}
\PN{413}{1626}{cO}{6.5}{lgc4}\PN{444}{1626}{cM}{6.5}{lgc5}
\node[legs] (lgt1) at (321,1650) {≤3};
\node[legs] (lgt2) at (352,1650) {>3};
\node[legs] (lgt3) at (383,1650) {>5};
\node[legs] (lgt4) at (413,1650) {>10};
\node[legs] (lgt5) at (446,1650) {>30};
\PN{575}{1626}{cK}{3.5}{lgs1}\PN{607}{1626}{cK}{4.7}{lgs2}\PN{638}{1626}{cK}{5.8}{lgs3}
\PN{669}{1626}{cK}{6.8}{lgs4}\PN{701}{1626}{cK}{7.5}{lgs5}\PN{732}{1626}{cK}{8.3}{lgs6}
\PN{763}{1626}{cK}{9}{lgs7}
\node[legs] (lgu1) at (575,1650) {≤3};
\node[legs] (lgu2) at (607,1650) {>3};
\node[legs] (lgu3) at (638,1650) {>5};
\node[legs] (lgu4) at (669,1650) {>10};
\node[legs] (lgu5) at (701,1650) {>20};
\node[legs] (lgu6) at (732,1650) {>50};
\node[legs] (lgu7) at (763,1650) {>100};
\end{tikzpicture}
\end{document}
